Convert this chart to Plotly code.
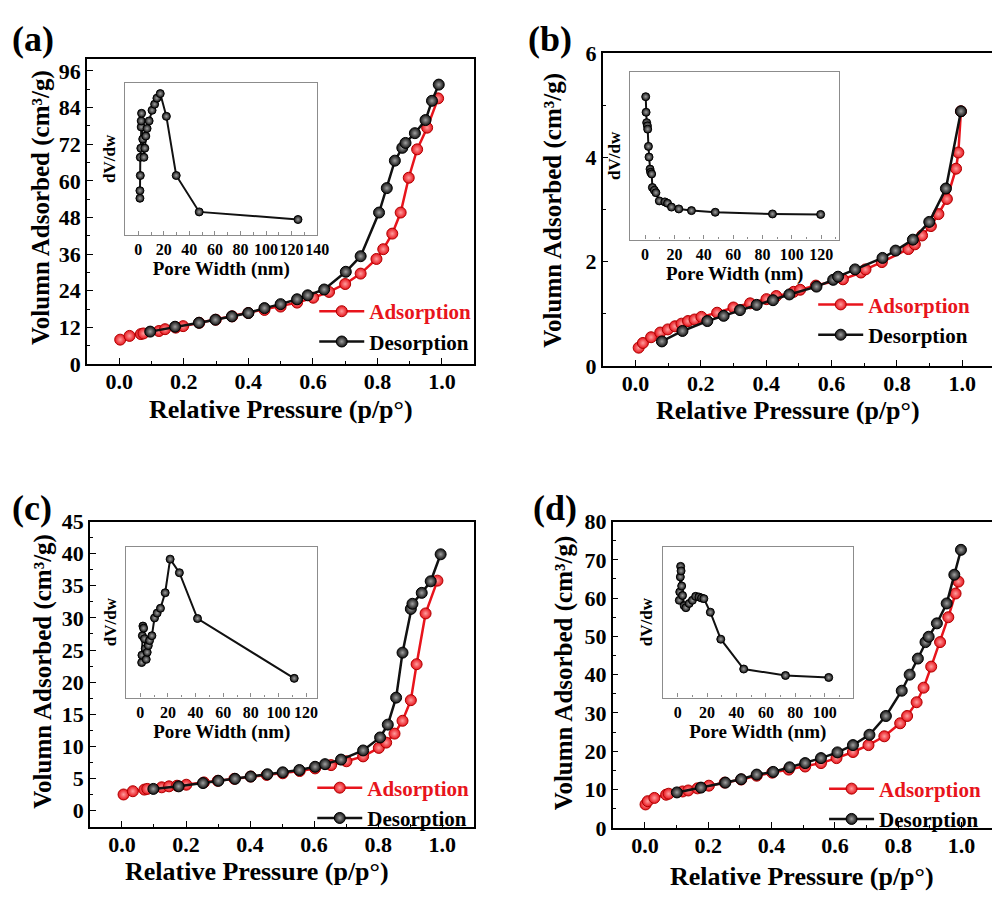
import plotly.graph_objects as go

# ---------------- data: panel (a) ----------------
a_ads_p = [0.003, 0.032, 0.067, 0.075, 0.123, 0.142, 0.175, 0.198, 0.248, 0.299, 0.350, 0.400, 0.450, 0.500,
           0.551, 0.601, 0.650, 0.700, 0.748, 0.797, 0.818, 0.846, 0.872, 0.897, 0.923, 0.954, 0.988]
a_ads_v = [7.97, 9.2, 9.8, 10.0, 10.8, 11.4, 11.9, 12.4, 13.5, 14.5, 15.6, 16.7, 17.7, 18.8,
           20.1, 21.7, 23.6, 26.2, 29.6, 34.4, 37.6, 42.7, 49.6, 61.0, 70.3, 77.4, 87.0]
a_des_p = [0.096, 0.173, 0.247, 0.298, 0.349, 0.400, 0.450, 0.500, 0.551, 0.584, 0.635, 0.702, 0.748,
           0.805, 0.829, 0.854, 0.877, 0.887, 0.916, 0.949, 0.969, 0.990]
a_des_v = [10.6, 12.2, 13.5, 14.5, 15.6, 16.7, 18.3, 19.6, 21.2, 22.5, 24.4, 30.2, 35.3,
           49.6, 57.6, 66.6, 70.8, 72.4, 75.6, 79.9, 86.2, 91.5]
a_pore_w = [1.3, 1.3, 1.6, 1.6, 2.0, 2.3, 2.3, 2.6, 3.5, 4.4, 5.1, 5.9, 6.9, 8.5, 10.8, 12.8, 14.6, 17.2,
            22.0, 29.7, 47.7, 125.0]
a_dvdw = [0.24, 0.29, 0.39, 0.51, 0.57, 0.71, 0.75, 0.80, 0.63, 0.51, 0.57, 0.65, 0.70, 0.75, 0.82, 0.86,
          0.90, 0.93, 0.78, 0.39, 0.15, 0.10]

# ---------------- data: panel (b) ----------------
b_ads_p = [0.010, 0.023, 0.048, 0.076, 0.099, 0.121, 0.141, 0.161, 0.181, 0.202, 0.250, 0.300, 0.351,
           0.401, 0.431, 0.484, 0.504, 0.552, 0.635, 0.690, 0.704, 0.754, 0.835, 0.855, 0.877, 0.904,
           0.927, 0.953, 0.981, 0.988, 0.996]
b_ads_v = [0.35, 0.44, 0.55, 0.64, 0.70, 0.76, 0.81, 0.86, 0.89, 0.94, 1.02, 1.12, 1.20,
           1.28, 1.34, 1.42, 1.46, 1.54, 1.66, 1.79, 1.85, 1.99, 2.24, 2.33, 2.50, 2.68,
           2.91, 3.20, 3.78, 4.09, 4.88]
b_des_p = [0.081, 0.144, 0.220, 0.270, 0.320, 0.371, 0.421, 0.471, 0.554, 0.605, 0.620, 0.672, 0.756,
           0.796, 0.849, 0.899, 0.950, 0.996]
b_des_v = [0.47, 0.67, 0.86, 0.96, 1.07, 1.17, 1.26, 1.37, 1.52, 1.65, 1.71, 1.85, 2.07,
           2.21, 2.42, 2.76, 3.40, 4.88]
b_pore_w = [0.45, 0.7, 1.1, 1.6, 1.8, 2.3, 2.7, 3.4, 3.8, 4.5, 5.0, 6.3, 7.4, 9.7, 13.5, 15.3, 18.0,
            23.0, 31.6, 47.8, 86.8, 119.6]
b_dvdw = [0.854, 0.761, 0.699, 0.680, 0.660, 0.557, 0.493, 0.421, 0.402, 0.392, 0.311, 0.295, 0.280,
          0.231, 0.225, 0.217, 0.194, 0.183, 0.173, 0.163, 0.153, 0.150]

# ---------------- data: panel (c) ----------------
c_ads_p = [0.005, 0.034, 0.070, 0.079, 0.124, 0.147, 0.172, 0.201, 0.256, 0.299, 0.351, 0.402, 0.452,
           0.502, 0.555, 0.603, 0.653, 0.701, 0.753, 0.802, 0.825, 0.851, 0.876, 0.902, 0.920, 0.948, 0.985]
c_ads_v = [2.53, 3.04, 3.29, 3.40, 3.65, 3.80, 3.90, 4.05, 4.41, 4.66, 4.97, 5.32, 5.57,
           5.83, 6.18, 6.59, 7.10, 7.70, 8.46, 9.78, 10.6, 12.0, 14.0, 17.2, 22.8, 30.7, 35.8]
c_des_p = [0.098, 0.177, 0.253, 0.301, 0.353, 0.402, 0.454, 0.502, 0.554, 0.603, 0.634, 0.684, 0.753,
           0.806, 0.830, 0.856, 0.876, 0.902, 0.907, 0.936, 0.964, 0.995]
c_des_v = [3.40, 3.80, 4.31, 4.66, 4.97, 5.32, 5.68, 5.98, 6.34, 6.84, 7.25, 7.96, 9.38,
           11.4, 13.4, 17.6, 24.6, 31.4, 32.2, 33.9, 35.7, 39.9]
c_pore_w = [1.0, 1.2, 1.5, 1.9, 2.4, 3.0, 3.6, 4.3, 5.0, 5.8, 6.7, 8.4, 10.3, 12.2, 14.6, 18.0, 21.6,
            28.3, 41.4, 111.4]
c_dvdw = [0.232, 0.281, 0.41, 0.474, 0.46, 0.39, 0.324, 0.253, 0.30, 0.345, 0.378, 0.41, 0.528, 0.56,
          0.592, 0.695, 0.918, 0.828, 0.524, 0.127]

# ---------------- data: panel (d) ----------------
d_ads_p = [0.002, 0.009, 0.030, 0.067, 0.075, 0.119, 0.137, 0.166, 0.202, 0.252, 0.304, 0.353, 0.402,
           0.454, 0.506, 0.556, 0.605, 0.657, 0.706, 0.756, 0.806, 0.828, 0.858, 0.880, 0.904, 0.932,
           0.958, 0.981, 0.990]
d_ads_v = [6.1, 6.95, 7.8, 8.64, 8.9, 9.49, 9.75, 10.3, 11.0, 11.8, 12.6, 13.6, 14.4,
           15.2, 16.0, 16.9, 18.2, 19.8, 21.6, 23.9, 27.3, 29.2, 32.8, 36.6, 42.1, 48.5,
           55.0, 61.2, 64.3]
d_des_p = [0.101, 0.177, 0.254, 0.304, 0.353, 0.405, 0.457, 0.506, 0.556, 0.608, 0.657, 0.709, 0.761,
           0.811, 0.836, 0.862, 0.886, 0.896, 0.922, 0.953, 0.977, 0.998]
d_des_v = [9.24, 10.5, 11.8, 12.7, 13.9, 14.6, 15.8, 16.9, 18.2, 19.7, 21.6, 24.3, 29.2,
           35.8, 40.0, 44.2, 48.5, 49.9, 53.4, 58.6, 66.1, 72.6]
d_pore_w = [1.1, 1.4, 1.8, 2.0, 2.3, 2.7, 3.3, 4.4, 5.6, 7.8, 10.0, 12.2, 14.4, 16.2, 17.8, 22.2, 29.3,
            44.9, 73.3, 102.7]
d_dvdw = [0.645, 0.70, 0.80, 0.87, 0.84, 0.74, 0.677, 0.609, 0.596, 0.624, 0.645, 0.671, 0.667, 0.66,
          0.656, 0.566, 0.387, 0.189, 0.146, 0.133]

panel_labels = ["(a)", "(b)", "(c)", "(d)"]
series_names = ["Adsorption", "Desorption"]
x_title = "Relative Pressure (p/p°)"
y_title = "Volumn Adsorbed (cm³/g)"
inset_x_title = "Pore Width (nm)"
inset_y_title = "dV/dw"

# ---------------- styling / layout ----------------
W, H = 1004, 904
FONT = "Liberation Serif"
RED = "#e8141c"
BLACK = "#111111"


def px(x):
    return x / W


def py(y):
    return 1 - y / H


def bfont(size, color="black"):
    return dict(family=FONT, size=size, color=color, weight="bold")


panels = [
    dict(ads=(a_ads_p, a_ads_v), des=(a_des_p, a_des_v), ins=(a_pore_w, a_dvdw),
         box=(88, 480, 48, 362), xr=[-0.1, 1.1], yr=[0, 100], dy=12, right=True,
         ibox=(127, 321, 73, 229), ixr=[-10, 140],
         lab=(33, 28), ytl=(42, 201), xtl=(284, 409), leg=(482, 287)),
    dict(ads=(b_ads_p, b_ads_v), des=(b_des_p, b_des_v), ins=(b_pore_w, b_dvdw),
         box=(610, 1004, 42, 364), xr=[-0.1, 1.091], yr=[0, 6], dy=2, right=False,
         ibox=(638, 849, 62, 234), ixr=[-10, 132],
         lab=(557, 28), ytl=(560, 204), xtl=(798, 410), leg=(987, 280)),
    dict(ads=(c_ads_p, c_ads_v), des=(c_des_p, c_des_v), ins=(c_pore_w, c_dvdw),
         box=(91, 480, 524, 838), xr=[-0.1, 1.1], yr=[-2.5, 45], dy=5, right=True,
         ibox=(128, 321, 550, 705), ixr=[-10, 128],
         lab=(32, 510), ytl=(44, 678), xtl=(260, 884), leg=(480, 777)),
    dict(ads=(d_ads_p, d_ads_v), des=(d_des_p, d_des_v), ins=(d_pore_w, d_dvdw),
         box=(620, 1004, 524, 839), xr=[-0.102, 1.096], yr=[0, 80], dy=10, right=False,
         ibox=(671, 863, 550, 705), ixr=[-10, 119],
         lab=(562, 510), ytl=(571, 680), xtl=(812, 889), leg=(998, 778)),
]

fig = go.Figure()
layout = dict(
    width=W, height=H, margin=dict(l=0, r=0, t=0, b=0),
    paper_bgcolor="white", plot_bgcolor="rgba(0,0,0,0)",
    font=dict(family=FONT, size=20, color="black"),
    showlegend=True, annotations=[],
)


def marker(color, center, edge, size):
    return dict(symbol="circle", size=size, color=color,
                gradient=dict(type="radial", color=center),
                line=dict(color=edge, width=1))


for i, p in enumerate(panels):
    n = i + 1
    mx, my = (f"x{n}" if n > 1 else "x"), (f"y{n}" if n > 1 else "y")
    ix, iy = f"x{n + 4}", f"y{n + 4}"
    legname = "legend" if n == 1 else f"legend{n}"
    l, r, t, b = p["box"]

    # main isotherms
    fig.add_trace(go.Scatter(
        x=p["ads"][0], y=p["ads"][1], mode="lines+markers",
        name=f"<span style='color:{RED}'>{series_names[0]}</span>",
        line=dict(color=RED, width=2.5),
        marker=marker(RED, "#ff9d9d", "#b00000", 11),
        xaxis=mx, yaxis=my, legend=legname))
    fig.add_trace(go.Scatter(
        x=p["des"][0], y=p["des"][1], mode="lines+markers",
        name=series_names[1],
        line=dict(color=BLACK, width=2.5),
        marker=marker(BLACK, "#a0a0a0", "#000000", 11),
        xaxis=mx, yaxis=my, legend=legname))
    # inset
    fig.add_trace(go.Scatter(
        x=p["ins"][0], y=p["ins"][1], mode="lines+markers", showlegend=False,
        line=dict(color=BLACK, width=2),
        marker=marker(BLACK, "#a0a0a0", "#000000", 8),
        xaxis=ix, yaxis=iy))

    ax_common = dict(showline=True, linecolor="black", linewidth=1.5,
                     showgrid=False, zeroline=False, ticks="inside", ticklen=6,
                     tickwidth=1.3, tickcolor="black", tickfont=bfont(22))
    xkey = "xaxis" if n == 1 else f"xaxis{n}"
    ykey = "yaxis" if n == 1 else f"yaxis{n}"
    layout[xkey] = dict(ax_common, mirror=True, domain=[px(l), px(r)], range=p["xr"], anchor=my,
                        tickvals=[0, 0.2, 0.4, 0.6, 0.8, 1.0], ticktext=["0.0", "0.2", "0.4", "0.6", "0.8", "1.0"],
                        ticklabelstandoff=-3,
                        minor=dict(tickvals=[0.1, 0.3, 0.5, 0.7, 0.9], ticks="inside", ticklen=3.5,
                                   tickcolor="black", tickwidth=1.2))
    yt = list(range(0, int(p["yr"][1]) + 1, p["dy"]))
    layout[ykey] = dict(ax_common, mirror=p["right"], domain=[py(b), py(t)], range=p["yr"], anchor=mx,
                        tickvals=yt,
                        minor=dict(tickvals=[v + p["dy"] / 2 for v in yt], ticks="inside", ticklen=3.5,
                                   tickcolor="black", tickwidth=1.2))

    il, ir, itop, ib = p["ibox"]
    layout[f"xaxis{n + 4}"] = dict(
        domain=[px(il), px(ir)], range=p["ixr"], anchor=iy, showline=True, linecolor="#8c8c8c",
        linewidth=1.2, mirror=True, showgrid=False, zeroline=False, ticks="inside", ticklen=4,
        tickcolor="#8c8c8c", dtick=20, tick0=0, tickangle=0,
        minor=dict(dtick=10, ticks="inside", ticklen=2.5, tickcolor="#8c8c8c"),
        tickfont=bfont(16),
        title=dict(text=inset_x_title, font=bfont(19), standoff=0))
    layout[f"yaxis{n + 4}"] = dict(
        domain=[py(ib), py(itop)], range=[0, 1], anchor=ix, showline=True, linecolor="#8c8c8c",
        linewidth=1.2, mirror=True, showgrid=False, zeroline=False, showticklabels=False, ticks="",
        title=dict(text=inset_y_title, font=bfont(17), standoff=4))

    # legend
    layout[legname] = dict(x=px(p["leg"][0]), y=py(p["leg"][1]), xanchor="right", yanchor="top",
                           bgcolor="rgba(0,0,0,0)", borderwidth=0, tracegroupgap=0,
                           itemwidth=45, font=bfont(21), traceorder="normal")

    # texts
    layout["annotations"] += [
        dict(text=panel_labels[i], x=px(p["lab"][0]), y=py(p["lab"][1]), xref="paper", yref="paper",
             showarrow=False, xanchor="center", yanchor="middle", font=bfont(36)),
        dict(text=y_title, x=px(p["ytl"][0]), y=py(p["ytl"][1]), xref="paper", yref="paper",
             showarrow=False, textangle=-90, xanchor="center", yanchor="middle", font=bfont(25)),
        dict(text=x_title, x=px(p["xtl"][0]), y=py(p["xtl"][1]), xref="paper", yref="paper",
             showarrow=False, xanchor="center", yanchor="middle", font=bfont(26)),
    ]

fig.update_layout(**layout)
fig.write_html("out.html")
